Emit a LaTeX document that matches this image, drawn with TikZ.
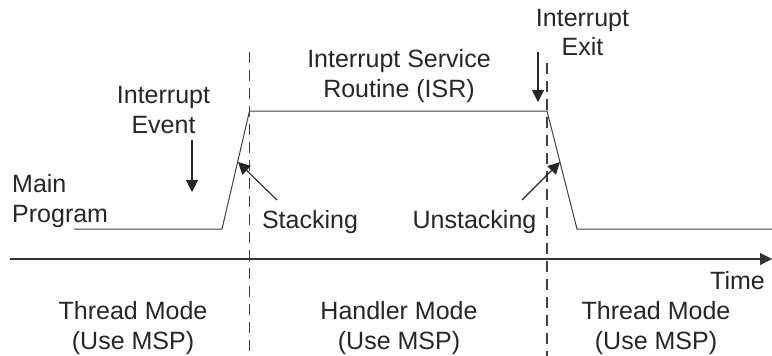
\documentclass[tikz,border=0pt]{standalone}
\usepackage{fontspec}
\setmainfont{Liberation Sans}
\usetikzlibrary{arrows.meta}
\tikzset{
  lbl/.style={inner sep=0pt, align=center, font=\fontsize{25}{29.5}\selectfont, text=black!85},
  wave/.style={draw=black!75, line width=1pt},
  guide/.style={draw=black!75, line width=1.5pt, dash pattern=on 11pt off 7pt},
  ptr/.style={draw=black!85, line width=1.1pt, -{Triangle[length=12pt,width=12pt]}},
  axisline/.style={draw=black!80, line width=1.1pt, -{Triangle[length=12pt,width=12pt]}}
}
\begin{document}
\begin{tikzpicture}[x=1pt,y=-1pt]
\useasboundingbox (0,0) rectangle (772,356);
% waveform points
\coordinate (w0) at (74,229);
\coordinate (w1) at (222,229);
\coordinate (w2) at (249.5,111);
\coordinate (w3) at (547,111);
\coordinate (w4) at (577,229);
\coordinate (w5) at (772,229);
\draw[wave] (w0) -- (w1) -- (w2) -- (w3) -- (w4) -- (w5);
% dashed guides
\coordinate (g1t) at (249.5,52);
\coordinate (g1b) at (249.5,356);
\coordinate (g2t) at (547,63);
\coordinate (g2b) at (547,356);
\draw[guide] (g1t) -- (g1b);
\draw[guide] (g2t) -- (g2b);
% time axis
\coordinate (ax0) at (10,259);
\coordinate (ax1) at (772,259);
\draw[axisline] (ax0) -- (ax1);
% labels (base anchor = baseline of last line)
\node[lbl, anchor=base west, align=left] (main) at (12,222) {Main\\Program};
\node[lbl, anchor=base] (evt) at (163.5,133) {Interrupt\\Event};
\node[lbl, anchor=base] (isr) at (399,97) {Interrupt Service\\Routine (ISR)};
\node[lbl, anchor=base] (exit) at (582.5,56) {Interrupt\\Exit};
\node[lbl, anchor=base] (stk) at (310,228) {Stacking};
\node[lbl, anchor=base] (ustk) at (474.5,228) {Unstacking};
\node[lbl, anchor=base east] (time) at (765,289) {Time};
\node[lbl, anchor=base] (tm1) at (133,349) {Thread Mode\\(Use MSP)};
\node[lbl, anchor=base] (hm) at (399,349) {Handler Mode\\(Use MSP)};
\node[lbl, anchor=base] (tm2) at (656,349) {Thread Mode\\(Use MSP)};
% pointer arrows
\coordinate (evs) at (192,140);
\coordinate (eve) at (192,192);
\draw[ptr] (evs) -- (eve);
\coordinate (exs) at (538,52);
\coordinate (exe) at (538,102);
\draw[ptr] (exs) -- (exe);
\coordinate (sts) at (277,200);
\coordinate (ste) at (238,162);
\draw[ptr] (sts) -- (ste);
\coordinate (uss) at (522,200);
\coordinate (use) at (560,162);
\draw[ptr] (uss) -- (use);
\end{tikzpicture}
\end{document}
